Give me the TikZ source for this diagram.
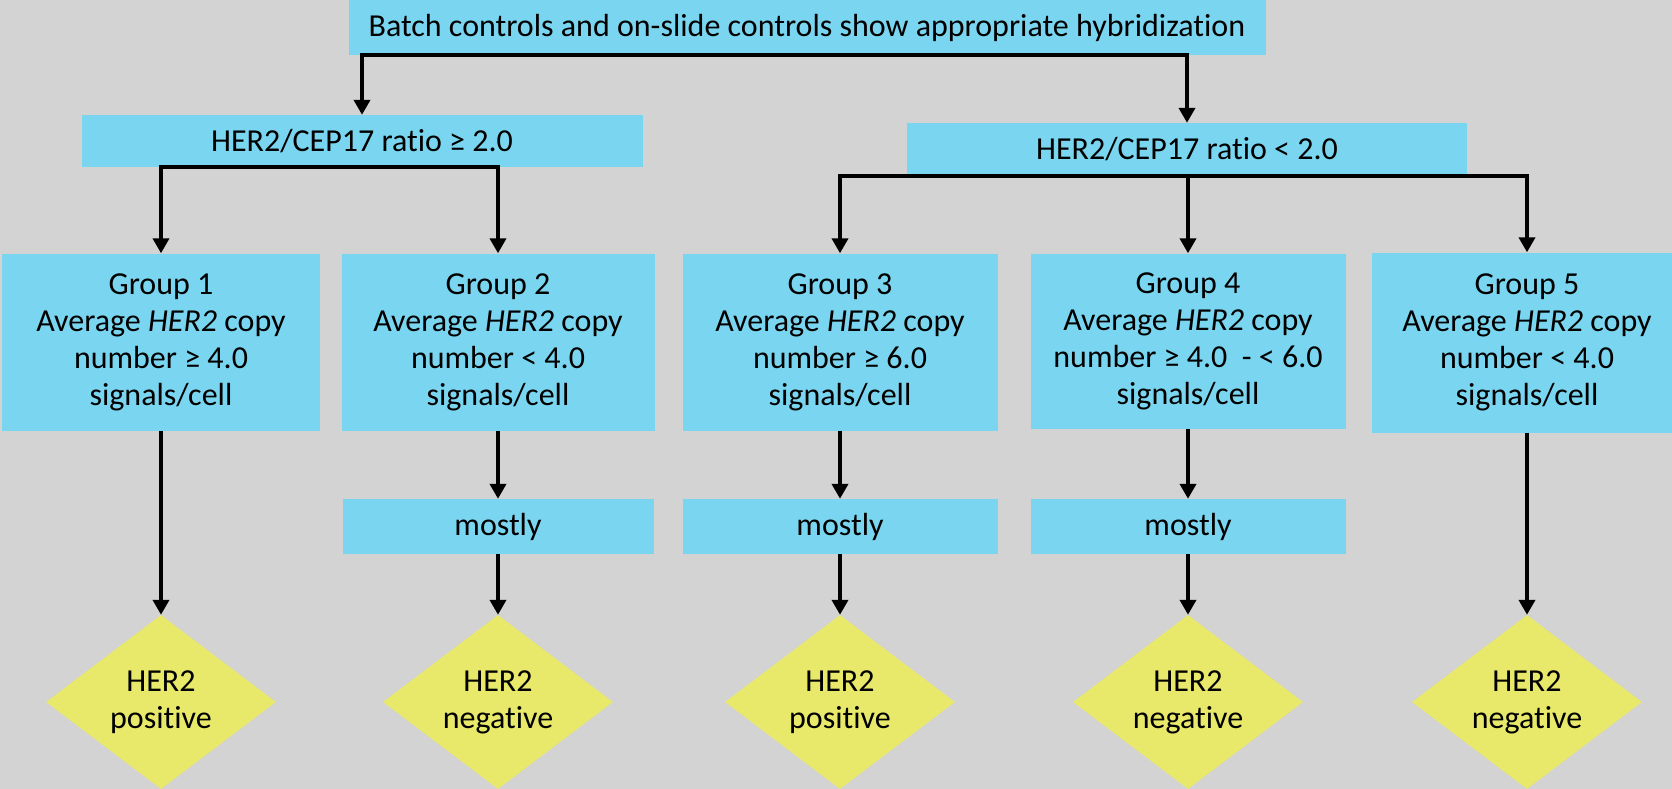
\documentclass[tikz,border=0pt]{standalone}
\usepackage{fontspec}
\setmainfont{Carlito}[Ligatures=NoCommon]
\usetikzlibrary{shapes.geometric,arrows.meta}

\definecolor{bggray}{RGB}{211,211,211}
\definecolor{boxblue}{RGB}{122,214,240}
\definecolor{diayellow}{RGB}{232,232,106}

\tikzset{
  box/.style={fill=boxblue,inner sep=0pt,align=center,font=\fontsize{32}{37}\selectfont},
  diam/.style={diamond,fill=diayellow,inner sep=0pt,minimum width=230pt,minimum height=174pt,align=center,font=\fontsize{32}{37}\selectfont},
  arr/.style={line width=4.5pt,-{Triangle[width=16pt,length=15pt]}}
}

\begin{document}
\begin{tikzpicture}[x=1pt,y=-1pt]
  \fill[bggray] (0,0) rectangle (1672,789);
  \useasboundingbox (0,0) rectangle (1672,789);

  \node (top) at (807,27.5) [box,minimum width=917pt,minimum height=55pt]{Batch controls and on-slide controls show appropriate hybridization};

  \node (hiR) at (362,141) [box,minimum width=561pt,minimum height=52pt]{HER2/CEP17 ratio ≥ 2.0};
  \node (loR) at (1187,149.5) [box,minimum width=560pt,minimum height=53pt]{HER2/CEP17 ratio < 2.0};

  \node (g1) at (161,342) [box,minimum width=318pt,minimum height=177pt]{Group 1\\Average \textit{HER2} copy\\number ≥ 4.0\\signals/cell};
  \node (g2) at (498,342) [box,minimum width=313pt,minimum height=177pt]{Group 2\\Average \textit{HER2} copy\\number < 4.0\\signals/cell};
  \node (g3) at (840,342) [box,minimum width=315pt,minimum height=177pt]{Group 3\\Average \textit{HER2} copy\\number ≥ 6.0\\signals/cell};
  \node (g4) at (1188,341) [box,minimum width=315pt,minimum height=175pt]{Group 4\\Average \textit{HER2} copy\\number ≥ 4.0~~- < 6.0\\signals/cell};
  \node (g5) at (1527,342.5) [box,minimum width=310pt,minimum height=180pt]{Group 5\\Average \textit{HER2} copy\\number < 4.0\\signals/cell};

  \node (m2) at (498,526.5) [box,minimum width=311pt,minimum height=55pt]{mostly};
  \node (m3) at (840,526.5) [box,minimum width=315pt,minimum height=55pt]{mostly};
  \node (m4) at (1188,526.5) [box,minimum width=315pt,minimum height=55pt]{mostly};

  \node (d1) at (161,702) [diam]{HER2\\positive};
  \node (d2) at (498,702) [diam]{HER2\\negative};
  \node (d3) at (840,702) [diam]{HER2\\positive};
  \node (d4) at (1188,702) [diam]{HER2\\negative};
  \node (d5) at (1527,702) [diam]{HER2\\negative};

  \draw[arr] (top.south) -| (hiR);
  \draw[arr] (top.south) -| (loR);

  \draw[arr] (hiR.south) -| (g1);
  \draw[arr] (hiR.south) -| (g2);

  \draw[arr] (loR.south) -| (g3);
  \draw[arr] (loR.south) -| (g4);
  \draw[arr] (loR.south) -| (g5);

  \draw[arr] (g1) -- (d1);
  \draw[arr] (g2) -- (m2);
  \draw[arr] (m2) -- (d2);
  \draw[arr] (g3) -- (m3);
  \draw[arr] (m3) -- (d3);
  \draw[arr] (g4) -- (m4);
  \draw[arr] (m4) -- (d4);
  \draw[arr] (g5) -- (d5);

\end{tikzpicture}
\end{document}
